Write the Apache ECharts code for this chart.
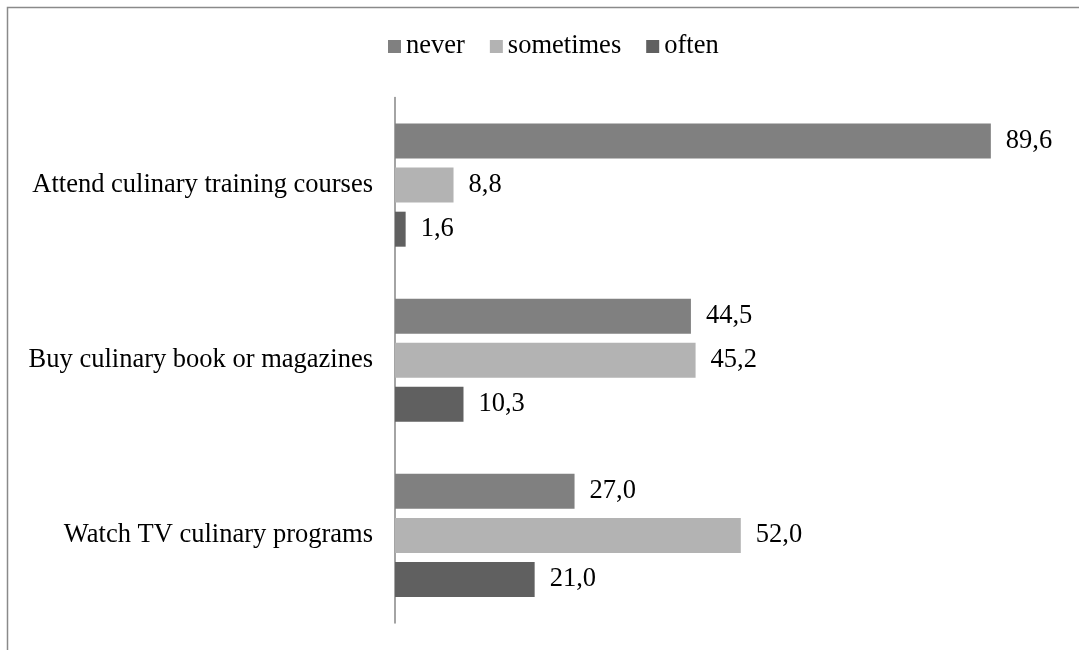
<!DOCTYPE html>
<html>
<head>
<meta charset="utf-8">
<script src="https://cdn.jsdelivr.net/npm/echarts@6/dist/echarts.min.js"></script>
<style>
html,body{margin:0;padding:0;background:#fff;}
#chart{width:1079px;height:650px;}
</style>
</head>
<body>
<div id="chart"></div>
<script>
const categories = ["Attend culinary training courses", "Buy culinary book or magazines", "Watch TV culinary programs"];
const seriesNames = ["never", "sometimes", "often"];
const neverValues = [89.6, 44.5, 27.0];
const sometimesValues = [8.8, 45.2, 52.0];
const oftenValues = [1.6, 10.3, 21.0];
const colors = ["#808080", "#b3b3b3", "#606060"];

const font = "'Liberation Serif', 'Times New Roman', serif";
const chart = echarts.init(document.getElementById('chart'));
const dataSets = [neverValues, sometimesValues, oftenValues];

chart.setOption({
  animation: false,
  textStyle: { fontFamily: font },
  graphic: [{
    type: 'rect',
    shape: { x: 7.5, y: 7.5, width: 1200, height: 800 },
    style: { fill: 'none', stroke: '#8a8a8a', lineWidth: 1.5 },
    silent: true
  }],
  legend: {
    left: 388, top: 33, padding: 0,
    itemWidth: 13, itemHeight: 13, itemGap: 25,
    icon: 'rect',
    textStyle: { fontFamily: font, fontSize: 26.5, color: '#000' },
    data: seriesNames
  },
  grid: { left: 395, top: 97.5, bottom: 27, right: 19, containLabel: false },
  xAxis: { type: 'value', min: 0, max: 100, show: false },
  yAxis: {
    type: 'category', inverse: true, data: categories,
    axisLine: { lineStyle: { color: '#868686', width: 1.5 } },
    axisTick: { show: false },
    axisLabel: { fontFamily: font, fontSize: 26.5, color: '#000', margin: 22 }
  },
  series: seriesNames.map((n, i) => ({
    name: n, type: 'bar', data: dataSets[i],
    barWidth: 35, barGap: '26%',
    itemStyle: { color: colors[i] },
    label: {
      show: true, position: 'right', distance: 15,
      fontFamily: font, fontSize: 26.5, color: '#000',
      formatter: p => p.value.toFixed(1).replace('.', ',')
    }
  }))
});
</script>
</body>
</html>
